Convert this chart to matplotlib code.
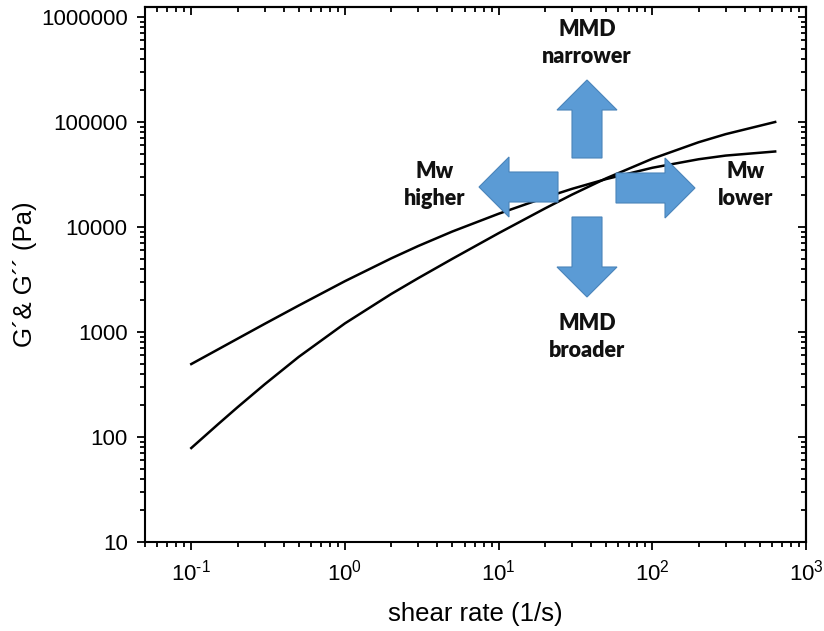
import math
import matplotlib
matplotlib.use('Agg')
import matplotlib.pyplot as plt
from matplotlib.patches import FancyArrow
from matplotlib.transforms import Affine2D
from matplotlib.ticker import LogLocator, FuncFormatter, NullFormatter

# ---- data ----
shear_rate = [0.1, 0.15, 0.2, 0.3, 0.5, 1, 2, 3, 5, 10, 20, 30, 50, 100, 200, 300, 630]
g_storage = [78.5, 133, 192, 317, 579, 1208, 2301, 3258, 4977, 8730, 15000, 20320,
             29040, 44670, 64120, 76560, 100000]
g_loss = [495, 685, 863, 1194, 1786, 3048, 5023, 6592, 9057, 13370, 19050, 23070,
          28580, 36640, 44160, 47860, 52360]

y_ticks = [10, 100, 1000, 10000, 100000, 1000000]
x_ticks = [0.1, 1, 10, 100, 1000]

# annotation lines: (text, x, baseline y) in image pixels
annotations = [("MMD", 587, 36), ("narrower", 587, 63),
               ("Mw", 435, 178), ("higher", 435, 205),
               ("Mw", 746, 178), ("lower", 746, 205),
               ("MMD", 587, 330), ("broader", 587, 357)]
# arrows: start (x, y) and end (x, y) in image pixels
arrows = [((587, 158), (587, 80)), ((587, 217), (587, 297)),
          ((616, 188), (695, 188)), ((558, 187), (479, 187))]

plt.rcParams['font.family'] = ['Liberation Sans', 'DejaVu Sans']
plt.rcParams['mathtext.fontset'] = 'custom'
plt.rcParams['mathtext.rm'] = 'Liberation Sans'
plt.rcParams['mathtext.it'] = 'Liberation Sans'
plt.rcParams['mathtext.default'] = 'regular'
plt.rcParams['axes.unicode_minus'] = False


def xfmt(v, p):
    e = round(math.log10(v))
    if e < 0:
        return r'$10^{\text{-}%d}$' % (-e)
    return r'$10^{%d}$' % e


W, H = 824, 631
fig = plt.figure(figsize=(W / 100, H / 100), dpi=100)
ax = fig.add_axes([145 / W, 1 - 542 / H, (806 - 145) / W, (542 - 7) / H])

ax.plot(shear_rate, g_storage, color='black', lw=1.8, zorder=2)
ax.plot(shear_rate, g_loss, color='black', lw=1.8, zorder=2)

ax.set_xscale('log')
ax.set_yscale('log')
ax.set_xlim(0.05, 1000)
ax.set_ylim(10, 10 ** 6.095)

ax.set_yticks(y_ticks)
ax.yaxis.set_major_formatter(FuncFormatter(lambda v, p: '%d' % round(v)))
ax.yaxis.set_minor_locator(LogLocator(base=10, subs=range(2, 10), numticks=20))
ax.yaxis.set_minor_formatter(NullFormatter())
ax.set_xticks(x_ticks)
ax.xaxis.set_major_formatter(FuncFormatter(xfmt))
ax.xaxis.set_minor_locator(LogLocator(base=10, subs=range(2, 10), numticks=20))
ax.xaxis.set_minor_formatter(NullFormatter())

ax.tick_params(which='both', direction='out', width=1.3, labelsize=16, pad=7, top=False, right=False)
ax.tick_params(which='major', length=5.5)
ax.tick_params(which='minor', length=3.5)
for s in ax.spines.values():
    s.set_linewidth(1.5)

# inward ticks on top and right
secx = ax.secondary_xaxis('top')
secx.set_xticks(x_ticks)
secx.xaxis.set_minor_locator(LogLocator(base=10, subs=range(2, 10), numticks=20))
secx.tick_params(which='both', direction='in', width=1.3, labeltop=False)
secx.tick_params(which='major', length=5.5)
secx.tick_params(which='minor', length=3.5)
secx.spines['top'].set_linewidth(1.5)
secy = ax.secondary_yaxis('right')
secy.set_yticks(y_ticks)
secy.yaxis.set_minor_locator(LogLocator(base=10, subs=range(2, 10), numticks=20))
secy.tick_params(which='both', direction='in', width=1.3, labelright=False)
secy.tick_params(which='major', length=5.5)
secy.tick_params(which='minor', length=3.5)
secy.spines['right'].set_linewidth(1.5)

ax.set_xlabel('shear rate (1/s)', fontsize=18.5, labelpad=12)
ax.set_ylabel('G\u00b4& G\u00b4\u00b4 (Pa)', fontsize=18.5, labelpad=3)

# pixel transform (image pixels, y downward)
pix = Affine2D().scale(1 / 100, -1 / 100).translate(0, H / 100) + fig.dpi_scale_trans

for (x0, y0), (x1, y1) in arrows:
    arr = FancyArrow(x0, y0, x1 - x0, y1 - y0, width=30, head_width=60, head_length=30,
                     length_includes_head=True, transform=pix,
                     facecolor='#5B9BD5', edgecolor='#4A84BA', lw=0.8, zorder=5)
    fig.add_artist(arr)

for txt, x, y in annotations:
    fig.text(x, y, txt, transform=pix, fontsize=15.5, fontweight='heavy',
             family=['Lato', 'DejaVu Sans'], ha='center', va='baseline',
             color='#111111', zorder=6)

fig.savefig('out.png', dpi=100)
